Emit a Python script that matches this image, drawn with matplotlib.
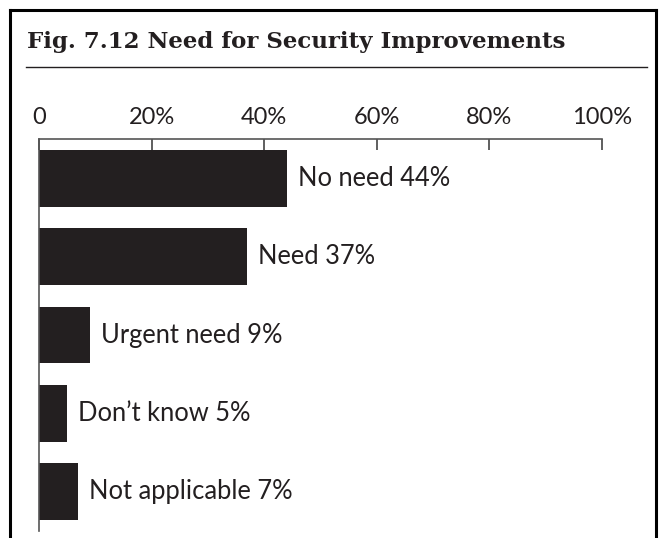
import matplotlib.pyplot as plt
from matplotlib.lines import Line2D

categories = ['No need', 'Need', 'Urgent need', 'Don\u2019t know', 'Not applicable']
values = [44, 37, 9, 5, 7]
ticks = [0, 20, 40, 60, 80, 100]
tick_labels = ['0', '20%', '40%', '60%', '80%', '100%']

fig = plt.figure(figsize=(6.66, 5.38), dpi=100)

# frame, open at the bottom
fx0, fx1, fy = 10.3/666, 655.5/666, 1 - 10.3/538
fig.add_artist(Line2D([fx0, fx0], [0, fy], color='black', lw=2.2, transform=fig.transFigure))
fig.add_artist(Line2D([fx0, fx1], [fy, fy], color='black', lw=2.2, transform=fig.transFigure))
fig.add_artist(Line2D([fx1, fx1], [0, fy], color='black', lw=2.2, transform=fig.transFigure))

fig.text(27/666, 1 - 48/538, 'Fig. 7.12 Need for Security Improvements', family='DejaVu Serif',
         weight='bold', fontsize=16.5, va='baseline', ha='left', color='#231f20')
fig.add_artist(Line2D([26/666, 647/666], [1 - 66.5/538, 1 - 66.5/538], color='#231f20', lw=1.0, transform=fig.transFigure))

ax = fig.add_axes([39/666, 1 - 531/538, (602 - 39)/666, (531 - 139)/538])
ypos = list(range(len(values)))
ax.barh(ypos, values, height=0.726, color='#231f20')
for y, c, v in zip(ypos, categories, values):
    ax.text(v + 11 * 100 / 563, y, f'{c} {v}%', va='center', ha='left', family='Lato',
            fontsize=18.4, color='#231f20')

ax.set_xlim(0, 100)
ax.set_ylim(4.5, -0.5)
ax.xaxis.tick_top()
ax.set_xticks(ticks)
ax.set_xticklabels(tick_labels, family='Lato', fontsize=17, color='#231f20')
ax.tick_params(axis='x', direction='in', length=8, width=1.2, color='#444', pad=8)
ax.set_yticks([])
for s in ['right', 'bottom']:
    ax.spines[s].set_visible(False)
for s in ['top', 'left']:
    ax.spines[s].set_color('#555')
    ax.spines[s].set_linewidth(1.2)
ax.patch.set_visible(False)

fig.savefig('out.png', dpi=100)
